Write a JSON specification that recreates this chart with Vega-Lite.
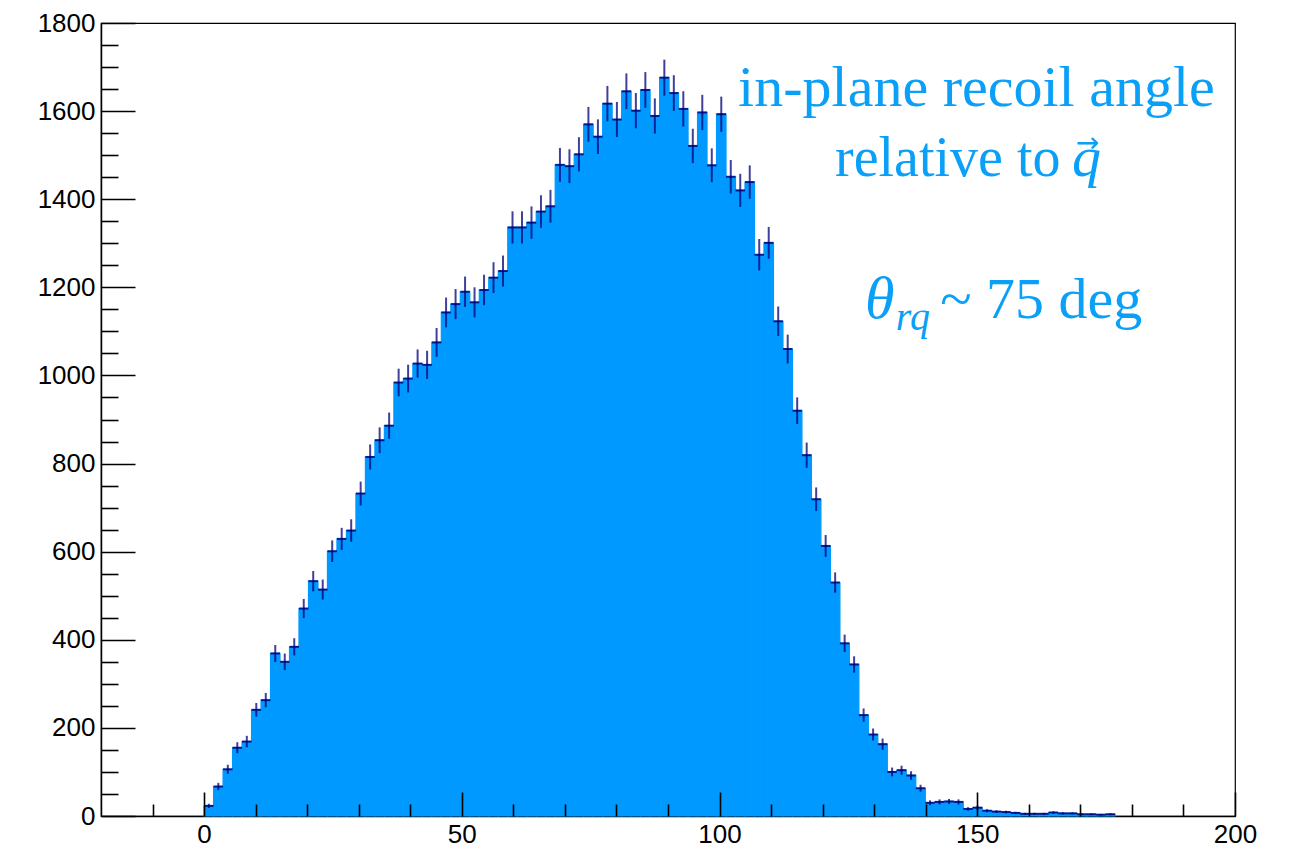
{
  "$schema": "https://vega.github.io/schema/vega-lite/v6.json",
  "width": 1134,
  "height": 793,
  "autosize": "none",
  "padding": {"left": 101, "top": 23, "right": 59, "bottom": 38},
  "background": "white",
  "config": {
    "view": {"stroke": "#000", "strokeWidth": 1.2},
    "axis": {"grid": false, "title": null, "labelOverlap": false, "labelBound": false, "labelFlush": false}
  },
  "datasets": {
    "hist": [
      {"start":0,"end":1.841,"mid":0.921,"count":23,"lo":18.2,"hi":27.8},
      {"start":1.841,"end":3.682,"mid":2.762,"count":67,"lo":58.8,"hi":75.2},
      {"start":3.682,"end":5.523,"mid":4.603,"count":106,"lo":95.7,"hi":116.3},
      {"start":5.523,"end":7.364,"mid":6.444,"count":155,"lo":142.5,"hi":167.5},
      {"start":7.364,"end":9.205,"mid":8.285,"count":169,"lo":156,"hi":182},
      {"start":9.205,"end":11.046,"mid":10.126,"count":241,"lo":225.5,"hi":256.5},
      {"start":11.046,"end":12.887,"mid":11.967,"count":263,"lo":246.8,"hi":279.2},
      {"start":12.887,"end":14.728,"mid":13.808,"count":369,"lo":349.8,"hi":388.2},
      {"start":14.728,"end":16.569,"mid":15.649,"count":350,"lo":331.3,"hi":368.7},
      {"start":16.569,"end":18.41,"mid":17.49,"count":384,"lo":364.4,"hi":403.6},
      {"start":18.41,"end":20.251,"mid":19.331,"count":471,"lo":449.3,"hi":492.7},
      {"start":20.251,"end":22.092,"mid":21.172,"count":533,"lo":509.9,"hi":556.1},
      {"start":22.092,"end":23.933,"mid":23.013,"count":514,"lo":491.3,"hi":536.7},
      {"start":23.933,"end":25.774,"mid":24.854,"count":601,"lo":576.5,"hi":625.5},
      {"start":25.774,"end":27.615,"mid":26.695,"count":629,"lo":603.9,"hi":654.1},
      {"start":27.615,"end":29.456,"mid":28.536,"count":648,"lo":622.5,"hi":673.5},
      {"start":29.456,"end":31.297,"mid":30.377,"count":732,"lo":704.9,"hi":759.1},
      {"start":31.297,"end":33.138,"mid":32.218,"count":815,"lo":786.5,"hi":843.5},
      {"start":33.138,"end":34.979,"mid":34.059,"count":853,"lo":823.8,"hi":882.2},
      {"start":34.979,"end":36.82,"mid":35.9,"count":886,"lo":856.2,"hi":915.8},
      {"start":36.82,"end":38.661,"mid":37.741,"count":984,"lo":952.6,"hi":1015.4},
      {"start":38.661,"end":40.502,"mid":39.582,"count":993,"lo":961.5,"hi":1024.5},
      {"start":40.502,"end":42.343,"mid":41.423,"count":1027,"lo":995,"hi":1059},
      {"start":42.343,"end":44.184,"mid":43.264,"count":1024,"lo":992,"hi":1056},
      {"start":44.184,"end":46.025,"mid":45.105,"count":1075,"lo":1042.2,"hi":1107.8},
      {"start":46.025,"end":47.866,"mid":46.946,"count":1143,"lo":1109.2,"hi":1176.8},
      {"start":47.866,"end":49.707,"mid":48.787,"count":1162,"lo":1127.9,"hi":1196.1},
      {"start":49.707,"end":51.548,"mid":50.628,"count":1190,"lo":1155.5,"hi":1224.5},
      {"start":51.548,"end":53.389,"mid":52.469,"count":1166,"lo":1131.9,"hi":1200.1},
      {"start":53.389,"end":55.23,"mid":54.31,"count":1194,"lo":1159.4,"hi":1228.6},
      {"start":55.23,"end":57.071,"mid":56.151,"count":1222,"lo":1187,"hi":1257},
      {"start":57.071,"end":58.912,"mid":57.992,"count":1237,"lo":1201.8,"hi":1272.2},
      {"start":58.912,"end":60.753,"mid":59.833,"count":1336,"lo":1299.5,"hi":1372.5},
      {"start":60.753,"end":62.594,"mid":61.674,"count":1336,"lo":1299.5,"hi":1372.5},
      {"start":62.594,"end":64.435,"mid":63.515,"count":1347,"lo":1310.3,"hi":1383.7},
      {"start":64.435,"end":66.276,"mid":65.356,"count":1372,"lo":1335,"hi":1409},
      {"start":66.276,"end":68.117,"mid":67.197,"count":1384,"lo":1346.8,"hi":1421.2},
      {"start":68.117,"end":69.958,"mid":69.038,"count":1478,"lo":1439.6,"hi":1516.4},
      {"start":69.958,"end":71.799,"mid":70.879,"count":1475,"lo":1436.6,"hi":1513.4},
      {"start":71.799,"end":73.64,"mid":72.72,"count":1502,"lo":1463.2,"hi":1540.8},
      {"start":73.64,"end":75.481,"mid":74.561,"count":1570,"lo":1530.4,"hi":1609.6},
      {"start":75.481,"end":77.322,"mid":76.402,"count":1542,"lo":1502.7,"hi":1581.3},
      {"start":77.322,"end":79.163,"mid":78.243,"count":1617,"lo":1576.8,"hi":1657.2},
      {"start":79.163,"end":81.004,"mid":80.084,"count":1581,"lo":1541.2,"hi":1620.8},
      {"start":81.004,"end":82.845,"mid":81.925,"count":1645,"lo":1604.4,"hi":1685.6},
      {"start":82.845,"end":84.686,"mid":83.766,"count":1601,"lo":1561,"hi":1641},
      {"start":84.686,"end":86.527,"mid":85.607,"count":1648,"lo":1607.4,"hi":1688.6},
      {"start":86.527,"end":88.368,"mid":87.448,"count":1589,"lo":1549.1,"hi":1628.9},
      {"start":88.368,"end":90.209,"mid":89.289,"count":1676,"lo":1635.1,"hi":1716.9},
      {"start":90.209,"end":92.05,"mid":91.13,"count":1641,"lo":1600.5,"hi":1681.5},
      {"start":92.05,"end":93.891,"mid":92.971,"count":1605,"lo":1564.9,"hi":1645.1},
      {"start":93.891,"end":95.732,"mid":94.812,"count":1521,"lo":1482,"hi":1560},
      {"start":95.732,"end":97.573,"mid":96.653,"count":1597,"lo":1557,"hi":1637},
      {"start":97.573,"end":99.414,"mid":98.494,"count":1477,"lo":1438.6,"hi":1515.4},
      {"start":99.414,"end":101.255,"mid":100.335,"count":1593,"lo":1553.1,"hi":1632.9},
      {"start":101.255,"end":103.096,"mid":102.176,"count":1451,"lo":1412.9,"hi":1489.1},
      {"start":103.096,"end":104.937,"mid":104.017,"count":1420,"lo":1382.3,"hi":1457.7},
      {"start":104.937,"end":106.778,"mid":105.858,"count":1439,"lo":1401.1,"hi":1476.9},
      {"start":106.778,"end":108.619,"mid":107.699,"count":1274,"lo":1238.3,"hi":1309.7},
      {"start":108.619,"end":110.46,"mid":109.54,"count":1301,"lo":1264.9,"hi":1337.1},
      {"start":110.46,"end":112.301,"mid":111.381,"count":1123,"lo":1089.5,"hi":1156.5},
      {"start":112.301,"end":114.142,"mid":113.222,"count":1060,"lo":1027.4,"hi":1092.6},
      {"start":114.142,"end":115.983,"mid":115.063,"count":920,"lo":889.7,"hi":950.3},
      {"start":115.983,"end":117.824,"mid":116.904,"count":819,"lo":790.4,"hi":847.6},
      {"start":117.824,"end":119.665,"mid":118.745,"count":719,"lo":692.2,"hi":745.8},
      {"start":119.665,"end":121.506,"mid":120.586,"count":613,"lo":588.2,"hi":637.8},
      {"start":121.506,"end":123.347,"mid":122.427,"count":530,"lo":507,"hi":553},
      {"start":123.347,"end":125.188,"mid":124.268,"count":392,"lo":372.2,"hi":411.8},
      {"start":125.188,"end":127.029,"mid":126.109,"count":344,"lo":325.5,"hi":362.5},
      {"start":127.029,"end":128.87,"mid":127.95,"count":229,"lo":213.9,"hi":244.1},
      {"start":128.87,"end":130.711,"mid":129.791,"count":185,"lo":171.4,"hi":198.6},
      {"start":130.711,"end":132.552,"mid":131.632,"count":163,"lo":150.2,"hi":175.8},
      {"start":132.552,"end":134.393,"mid":133.473,"count":100,"lo":90,"hi":110},
      {"start":134.393,"end":136.234,"mid":135.314,"count":104,"lo":93.8,"hi":114.2},
      {"start":136.234,"end":138.075,"mid":137.155,"count":92,"lo":82.4,"hi":101.6},
      {"start":138.075,"end":139.916,"mid":138.996,"count":63,"lo":55.1,"hi":70.9},
      {"start":139.916,"end":141.757,"mid":140.837,"count":30,"lo":24.5,"hi":35.5},
      {"start":141.757,"end":143.598,"mid":142.678,"count":32,"lo":26.3,"hi":37.7},
      {"start":143.598,"end":145.439,"mid":144.519,"count":33,"lo":27.3,"hi":38.7},
      {"start":145.439,"end":147.28,"mid":146.36,"count":32,"lo":26.3,"hi":37.7},
      {"start":147.28,"end":149.121,"mid":148.201,"count":16,"lo":12,"hi":20},
      {"start":149.121,"end":150.962,"mid":150.042,"count":19,"lo":14.6,"hi":23.4},
      {"start":150.962,"end":152.803,"mid":151.883,"count":12,"lo":8.5,"hi":15.5},
      {"start":152.803,"end":154.644,"mid":153.724,"count":10,"lo":6.8,"hi":13.2},
      {"start":154.644,"end":156.485,"mid":155.565,"count":9,"lo":6,"hi":12},
      {"start":156.485,"end":158.326,"mid":157.406,"count":7,"lo":4.4,"hi":9.6},
      {"start":158.326,"end":160.167,"mid":159.247,"count":5,"lo":2.8,"hi":7.2},
      {"start":160.167,"end":162.008,"mid":161.088,"count":5,"lo":2.8,"hi":7.2},
      {"start":162.008,"end":163.849,"mid":162.929,"count":5,"lo":2.8,"hi":7.2},
      {"start":163.849,"end":165.69,"mid":164.77,"count":8,"lo":5.2,"hi":10.8},
      {"start":165.69,"end":167.531,"mid":166.611,"count":6,"lo":3.6,"hi":8.4},
      {"start":167.531,"end":169.372,"mid":168.452,"count":6,"lo":3.6,"hi":8.4},
      {"start":169.372,"end":171.213,"mid":170.293,"count":4,"lo":2,"hi":6},
      {"start":171.213,"end":173.054,"mid":172.134,"count":4,"lo":2,"hi":6},
      {"start":173.054,"end":174.895,"mid":173.975,"count":3,"lo":1.3,"hi":4.7},
      {"start":174.895,"end":176.736,"mid":175.816,"count":4,"lo":2,"hi":6}
    ],
    "note": [{}]
  },
  "resolve": {"axis": {"x": "independent", "y": "independent"}},
  "layer": [
    {
      "data": {"name": "hist"},
      "mark": {"type": "rect", "color": "#0099FF", "stroke": "#0099FF", "strokeWidth": 1.2},
      "encoding": {
        "x": {"field": "start", "type": "quantitative",
              "scale": {"domain": [-20, 200], "nice": false, "zero": false},
              "axis": {"orient": "bottom", "values": [0, 50, 100, 150, 200], "ticks": false, "format": "d",
                       "labelFont": "Liberation Sans", "labelFontSize": 26, "labelColor": "#000",
                       "labelPadding": 5, "domain": true, "domainColor": "#000", "domainWidth": 1.5}},
        "x2": {"field": "end"},
        "y": {"field": "count", "type": "quantitative",
              "scale": {"domain": [0, 1800], "nice": false, "zero": true},
              "axis": {"orient": "left", "values": [0, 200, 400, 600, 800, 1000, 1200, 1400, 1600, 1800], "ticks": false, "format": "d",
                       "labelFont": "Liberation Sans", "labelFontSize": 26, "labelColor": "#000",
                       "labelPadding": 6, "domain": true, "domainColor": "#000", "domainWidth": 1.5}},
        "y2": {"datum": 0}
      }
    },
    {
      "data": {"name": "hist"},
      "mark": {"type": "rule", "color": "#00007A", "strokeWidth": 2, "opacity": 0.85},
      "encoding": {
        "x": {"field": "start", "type": "quantitative",
              "axis": {"orient": "bottom", "values": [0, 50, 100, 150, 200], "labels": false, "domain": false,
                       "ticks": true, "tickSize": -24, "tickWidth": 1.6, "tickColor": "#000", "zindex": 1}},
        "x2": {"field": "end"},
        "y": {"field": "count", "type": "quantitative",
              "axis": {"orient": "left", "values": [0, 200, 400, 600, 800, 1000, 1200, 1400, 1600, 1800], "labels": false, "domain": false,
                       "ticks": true, "tickSize": -34, "tickWidth": 1.6, "tickColor": "#000", "zindex": 1}}
      }
    },
    {
      "data": {"name": "hist"},
      "mark": {"type": "rule", "color": "#00007A", "strokeWidth": 2, "opacity": 0.75},
      "encoding": {
        "x": {"field": "mid", "type": "quantitative",
              "axis": {"orient": "bottom", "values": [-10, 10, 20, 30, 40, 60, 70, 80, 90, 110, 120, 130, 140, 160, 170, 180, 190], "labels": false, "domain": false,
                       "ticks": true, "tickSize": -12, "tickWidth": 1.6, "tickColor": "#000", "zindex": 1}},
        "y": {"field": "lo", "type": "quantitative",
              "axis": {"orient": "left", "values": [50, 100, 150, 250, 300, 350, 450, 500, 550, 650, 700, 750, 850, 900, 950, 1050, 1100, 1150, 1250, 1300, 1350, 1450, 1500, 1550, 1650, 1700, 1750], "labels": false, "domain": false,
                       "ticks": true, "tickSize": -17, "tickWidth": 1.6, "tickColor": "#000", "zindex": 1}},
        "y2": {"field": "hi"}
      }
    },
    {
      "data": {"name": "note"},
      "mark": {"type": "text", "text": "in-plane recoil angle", "font": "Liberation Serif", "fontSize": 58, "color": "#0AA0F8", "align": "left", "baseline": "alphabetic"},
      "encoding": {
        "x": {"datum": 103.6, "type": "quantitative", "axis": null},
        "y": {"datum": 1611, "type": "quantitative", "axis": null}
      }
    },
    {
      "data": {"name": "note"},
      "mark": {"type": "text", "text": "relative to", "font": "Liberation Serif", "fontSize": 56, "color": "#0AA0F8", "align": "left", "baseline": "alphabetic"},
      "encoding": {
        "x": {"datum": 122.4, "type": "quantitative", "axis": null},
        "y": {"datum": 1452, "type": "quantitative", "axis": null}
      }
    },
    {
      "data": {"name": "note"},
      "mark": {"type": "text", "text": "q", "font": "Liberation Serif", "fontSize": 58, "fontStyle": "italic", "color": "#0AA0F8", "align": "left", "baseline": "alphabetic"},
      "encoding": {
        "x": {"datum": 168.4, "type": "quantitative", "axis": null},
        "y": {"datum": 1452, "type": "quantitative", "axis": null}
      }
    },
    {
      "data": {"name": "note"},
      "mark": {"type": "text", "text": "→", "font": "DejaVu Sans", "fontSize": 28, "color": "#0AA0F8", "align": "center", "baseline": "middle"},
      "encoding": {
        "x": {"datum": 171.4, "type": "quantitative", "axis": null},
        "y": {"datum": 1525, "type": "quantitative", "axis": null}
      }
    },
    {
      "data": {"name": "note"},
      "mark": {"type": "text", "text": "θ", "font": "Liberation Serif", "fontSize": 60, "fontStyle": "italic", "color": "#0AA0F8", "align": "left", "baseline": "alphabetic"},
      "encoding": {
        "x": {"datum": 128.2, "type": "quantitative", "axis": null},
        "y": {"datum": 1130, "type": "quantitative", "axis": null}
      }
    },
    {
      "data": {"name": "note"},
      "mark": {"type": "text", "text": "rq", "font": "Liberation Serif", "fontSize": 40, "fontStyle": "italic", "color": "#0AA0F8", "align": "left", "baseline": "alphabetic"},
      "encoding": {
        "x": {"datum": 134.2, "type": "quantitative", "axis": null},
        "y": {"datum": 1103, "type": "quantitative", "axis": null}
      }
    },
    {
      "data": {"name": "note"},
      "mark": {"type": "text", "text": "~ 75 deg", "font": "Liberation Serif", "fontSize": 58, "color": "#0AA0F8", "align": "left", "baseline": "alphabetic"},
      "encoding": {
        "x": {"datum": 142.8, "type": "quantitative", "axis": null},
        "y": {"datum": 1130, "type": "quantitative", "axis": null}
      }
    }
  ]
}
